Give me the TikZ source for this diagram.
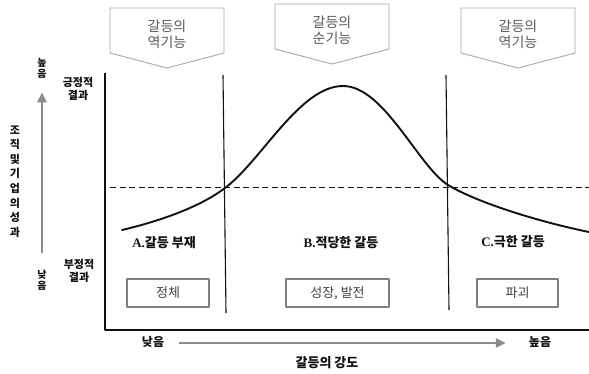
\documentclass[tikz,border=0pt]{standalone}
\usepackage{fontspec}
\setmainfont{Liberation Serif}
\newfontfamily\kr{Noto Sans CJK KR}
\usetikzlibrary{arrows.meta,calc}
\definecolor{cfink}{HTML}{111111}
\definecolor{cfedge}{HTML}{A8A8A8}
\definecolor{cftext}{HTML}{5A5A5A}
\definecolor{cfbox}{HTML}{7F7F7F}
\definecolor{cfaxis}{HTML}{8C8C8C}

\begin{document}
\begin{tikzpicture}[x=1pt,y=-1pt,>=Stealth,line join=round,
  font=\kr\fontsize{13}{16}\selectfont,text=cfink,
  callout/.style={draw=cfedge,fill=white,line width=.9pt},
  calltext/.style={text=cftext,align=center,inner sep=0pt,font=\kr\fontsize{14}{16}\selectfont},
  zone/.style={font=\bfseries\fontsize{13}{16}\selectfont},
  result/.style={draw=cfbox,line width=1.7pt,minimum height=28pt,inner sep=0pt,text=black!75},
  side/.style={font=\kr\bfseries\fontsize{11}{13}\selectfont,align=center,inner sep=0pt},
  axis/.style={cfaxis,line width=2.8pt,-{Triangle[length=10pt,width=9pt]}}]
\path[use as bounding box] (0,0) rectangle (589,373);
\fill[white] (0,0) rectangle (589,373);

% 위쪽 설명 상자 (갈등의 기능)
\foreach \cx/\ty/\name/\txt in {167/8/fa/역기능,332/4/fb/순기능,518/8/fc/역기능}{
  \draw[callout] (\cx-57,\ty) -- (\cx+57,\ty) -- (\cx+57,\ty+45) -- (\cx,\ty+60)
    -- (\cx-57,\ty+45) -- cycle;
  \node[calltext] (\name) at (\cx,\ty+26.5) {갈등의\\\txt};
}

% 축과 구간
\draw[cfink,line width=1.6pt] (105,73) -- (105,330) -- (589,330);
\draw[cfink,line width=1.1pt] (223,75) -- (226,313);
\draw[cfink,line width=1.1pt] (446,75) -- (449,310);
\draw[cfink,line width=.8pt,dash pattern=on 6pt off 3.5pt] (110,187) -- (589,187);

% 성과 곡선
\draw[cfink,line width=1.9pt,line cap=round]
  (122,230) .. controls (160,221) and (200,207) .. (225,188)
  .. controls (262,160) and (300,86) .. (343,86)
  .. controls (384,86) and (418,166) .. (448,185)
  .. controls (478,203) and (540,222) .. (589,232);

% 구간 이름과 결과
\node[zone] (za) at (164,243) {A.{\kr 갈등 부재}};
\node[zone] (zb) at (341,243) {B.{\kr 적당한 갈등}};
\node[zone] (zc) at (513,242) {C.{\kr 극한 갈등}};
\node[result,minimum width=82pt] (ra) at (168,293) {정체};
\node[result,minimum width=103pt] (rb) at (337.5,293) {성장, 발전};
\node[result,minimum width=81pt] (rc) at (517.5,293) {파괴};

% 세로축 표시
\node[side] (ptop) at (78,89) {긍정적\\결과};
\node[side] (pbot) at (79,271) {부정적\\결과};
\node[side,font=\kr\bfseries\fontsize{10}{11}\selectfont] (yhigh) at (42,68) {높\\음};
\node[side,font=\kr\bfseries\fontsize{10}{11}\selectfont] (ylow) at (42,280) {낮\\음};
\draw[axis] ($(ylow.north)+(0,-17)$) -- ($(yhigh.south)+(0,14)$);
\foreach \c [count=\i from 0] in {조,직,및,기,업,의,성,과}
  \node[side,font=\kr\bfseries\fontsize{11}{13}\selectfont] (yl\i) at (15,130+14.6*\i) {\c};

% 가로축 표시
\node[side,font=\kr\bfseries\fontsize{12}{14}\selectfont] (xlow) at (153,342) {낮음};
\node[side,font=\kr\bfseries\fontsize{12}{14}\selectfont] (xhigh) at (540,342) {높음};
\draw[axis] ($(xlow.east)+(15,1)$) -- ($(xhigh.west)+(-23,1)$);
\node[side,font=\kr\bfseries\fontsize{13}{15}\selectfont] (xname) at (327,363) {갈등의 강도};
\end{tikzpicture}
\end{document}
